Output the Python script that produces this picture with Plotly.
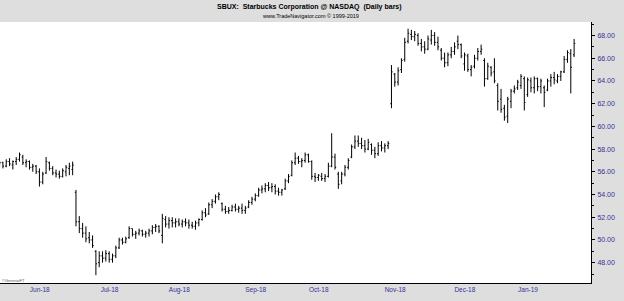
import pandas as pd
import plotly.graph_objects as go

# ---- data ----
holidays = ["2018-05-28", "2018-07-04", "2018-09-03", "2018-11-22",
            "2018-12-05", "2018-12-25", "2019-01-01", "2019-01-21"]
first_date = "2018-05-17"
last_date = "2019-01-25"

opens = [56.6, 56.8, 56.5, 56.9, 56.6, 56.9, 57.1, 57.3, 56.8, 56.9,
         56.4, 56.5, 56.0, 55.1, 55.9, 56.8, 56.3, 55.9, 55.8, 55.6,
         56.0, 56.3, 56.2, 54.2, 51.6, 51.0, 50.6, 50.2, 50.0, 49.0,
         48.0, 48.6, 48.4, 48.8, 48.3, 48.6, 49.3, 50.0, 49.8, 50.2,
         51.0, 50.5, 50.6, 50.8, 50.5, 50.6, 50.8, 51.1, 51.2, 50.4,
         51.8, 51.4, 51.7, 51.5, 51.6, 51.4, 51.6, 51.5, 51.3, 51.2,
         51.5, 51.8, 52.4, 52.3, 53.1, 53.4, 53.8, 53.2, 52.7, 52.5,
         52.6, 52.9, 52.7, 52.8, 52.6, 52.9, 53.3, 53.6, 53.9, 54.4,
         54.5, 54.8, 54.6, 54.7, 54.3, 54.2, 54.5, 55.2, 55.7, 56.8,
         57.2, 56.9, 57.0, 57.5, 56.9, 55.6, 55.5, 55.6, 55.4, 55.6,
         56.5, 57.3, 55.8, 55.2, 55.8, 56.4, 57.3, 58.2, 58.7, 58.5,
         58.3, 58.0, 58.4, 57.9, 57.6, 58.3, 58.1, 58.3, 62.0, 64.6,
         63.9, 65.0, 65.9, 67.5, 68.1, 67.9, 68.0, 67.3, 67.0, 66.8,
         67.6, 68.0, 67.4, 66.7, 66.0, 65.6, 66.3, 66.6, 67.5, 67.2,
         65.5, 66.2, 65.0, 65.3, 66.0, 66.6, 65.8, 64.2, 65.2, 64.8,
         63.6, 62.4, 61.6, 60.9, 62.2, 63.1, 63.4, 63.6, 64.2, 62.8,
         64.0, 63.4, 64.2, 63.5, 63.4, 63.2, 64.0, 64.3, 64.0, 64.4,
         64.8, 65.9, 66.4, 66.3]
highs = [57.0, 56.9, 57.1, 57.2, 57.0, 57.3, 57.7, 57.5, 57.1, 57.0,
         56.7, 56.6, 56.3, 56.0, 57.3, 56.9, 56.5, 56.2, 56.1, 56.3,
         56.6, 56.8, 56.9, 54.4, 52.1, 51.5, 51.2, 50.7, 50.4, 49.1,
         49.0, 49.0, 49.1, 49.0, 48.8, 49.5, 50.2, 50.2, 50.3, 51.2,
         51.0, 50.8, 51.0, 50.9, 50.8, 51.0, 51.3, 51.4, 51.3, 52.3,
         52.1, 52.0, 52.0, 51.9, 51.9, 51.8, 51.9, 51.8, 51.6, 51.7,
         51.9, 52.6, 52.8, 53.3, 53.6, 54.0, 54.2, 53.3, 53.0, 52.9,
         53.1, 53.2, 53.0, 53.2, 53.0, 53.5, 53.8, 54.1, 54.6, 54.8,
         55.0, 55.1, 55.0, 54.9, 54.6, 54.5, 55.4, 55.8, 57.0, 57.7,
         57.4, 57.2, 57.7, 57.6, 57.0, 55.9, 55.8, 55.9, 55.8, 56.8,
         59.4, 57.6, 56.0, 56.0, 56.6, 57.2, 58.4, 59.2, 59.2, 59.0,
         58.8, 58.9, 58.5, 58.2, 58.6, 58.7, 58.5, 58.7, 65.4, 64.7,
         65.2, 66.0, 67.8, 68.6, 68.5, 68.4, 68.2, 67.7, 67.5, 68.0,
         68.5, 68.3, 67.9, 66.9, 66.5, 66.5, 67.0, 67.4, 68.0, 67.3,
         66.5, 66.4, 65.4, 66.3, 66.9, 67.2, 66.0, 65.6, 65.3, 66.0,
         63.8, 63.3, 61.9, 62.6, 63.3, 63.6, 64.1, 64.6, 64.4, 64.3,
         64.3, 64.4, 64.3, 64.2, 63.6, 64.2, 64.6, 64.8, 64.6, 64.9,
         66.2, 66.7, 66.8, 67.7]
lows = [56.4, 56.3, 56.4, 56.5, 56.2, 56.6, 56.9, 56.6, 56.4, 56.2,
        56.0, 55.8, 54.7, 54.9, 55.8, 56.1, 55.7, 55.5, 55.4, 55.5,
        55.6, 55.7, 55.7, 51.2, 50.6, 50.2, 49.8, 49.7, 49.3, 46.9,
        47.6, 48.0, 48.1, 48.0, 48.0, 48.4, 49.2, 49.6, 49.7, 50.1,
        50.3, 50.1, 50.4, 50.3, 50.2, 50.3, 50.5, 50.7, 50.6, 49.7,
        51.1, 51.0, 51.1, 51.1, 51.2, 51.1, 51.2, 51.0, 51.0, 50.9,
        51.2, 51.7, 52.0, 52.2, 52.8, 53.2, 53.5, 52.5, 52.3, 52.3,
        52.5, 52.5, 52.4, 52.3, 52.3, 52.8, 53.1, 53.4, 53.8, 54.1,
        54.2, 54.3, 54.2, 54.0, 53.9, 53.9, 54.4, 55.0, 55.6, 56.6,
        56.7, 56.4, 56.8, 56.8, 55.3, 55.1, 55.2, 55.2, 55.1, 55.5,
        56.4, 56.2, 54.5, 54.9, 55.6, 56.2, 57.2, 58.0, 58.2, 58.0,
        57.7, 57.9, 57.5, 57.2, 57.4, 57.8, 57.7, 58.0, 61.6, 63.5,
        63.6, 64.7, 65.7, 67.3, 67.6, 67.5, 67.1, 66.6, 66.4, 66.7,
        67.2, 67.1, 66.7, 65.8, 65.2, 65.3, 66.0, 66.3, 66.8, 66.0,
        64.9, 64.8, 64.4, 65.1, 65.8, 66.3, 63.5, 64.1, 64.4, 63.8,
        61.4, 61.2, 60.5, 60.3, 61.6, 62.9, 63.2, 63.3, 61.4, 62.6,
        63.0, 62.9, 63.1, 62.9, 61.7, 63.1, 63.5, 63.7, 63.8, 64.0,
        64.7, 65.6, 62.9, 66.1]
closes = [56.8, 56.5, 56.9, 56.7, 56.9, 57.1, 57.5, 56.8, 56.9, 56.4,
          56.5, 56.0, 55.1, 55.8, 56.9, 56.3, 55.9, 55.8, 55.6, 56.1,
          56.4, 56.5, 56.6, 51.6, 51.0, 50.6, 50.1, 50.0, 49.5, 47.9,
          48.6, 48.4, 48.8, 48.3, 48.6, 49.3, 50.0, 49.8, 50.1, 51.0,
          50.5, 50.6, 50.8, 50.5, 50.6, 50.8, 51.1, 51.2, 50.8, 51.9,
          51.4, 51.7, 51.5, 51.6, 51.4, 51.6, 51.5, 51.3, 51.2, 51.5,
          51.8, 52.4, 52.2, 53.1, 53.4, 53.8, 54.0, 52.7, 52.5, 52.6,
          52.9, 52.7, 52.8, 52.6, 52.8, 53.3, 53.6, 53.9, 54.4, 54.5,
          54.8, 54.6, 54.7, 54.3, 54.2, 54.4, 55.2, 55.6, 56.8, 57.2,
          56.9, 57.0, 57.5, 56.9, 55.6, 55.5, 55.7, 55.4, 55.6, 56.5,
          57.3, 56.4, 54.9, 55.8, 56.4, 57.0, 58.2, 58.7, 58.5, 58.3,
          58.0, 58.6, 57.9, 57.6, 58.3, 58.1, 58.3, 58.5, 64.8, 63.9,
          64.9, 65.8, 67.4, 68.2, 67.9, 68.1, 67.3, 67.0, 66.8, 67.7,
          68.0, 67.4, 67.0, 66.0, 65.6, 66.3, 66.6, 67.0, 67.2, 66.2,
          66.3, 65.0, 65.2, 66.0, 66.6, 66.8, 64.2, 65.3, 64.7, 64.0,
          62.2, 61.5, 60.8, 62.4, 63.1, 63.3, 63.9, 64.4, 62.1, 64.1,
          63.4, 64.2, 63.5, 64.0, 63.0, 64.0, 64.3, 64.1, 64.4, 64.8,
          65.9, 66.5, 65.2, 67.3]

month_ticks = ["2018-06-01", "2018-07-02", "2018-08-01", "2018-09-04",
               "2018-10-01", "2018-11-01", "2018-12-03", "2019-01-02"]
month_labels = ["Jun-18", "Jul-18", "Aug-18", "Sep-18",
                "Oct-18", "Nov-18", "Dec-18", "Jan-19"]
price_ticks = [48, 50, 52, 54, 56, 58, 60, 62, 64, 66, 68]

dates = pd.bdate_range(first_date, last_date, freq="C", holidays=holidays)
n = len(dates)
for arr in (opens, highs, lows, closes):
    if len(arr) != n:
        raise ValueError(f"length mismatch {len(arr)} vs {n}")

NAVY = "#333399"
FONT = "Liberation Sans, Arial, sans-serif"

fig = go.Figure(go.Ohlc(
    x=dates, open=opens, high=highs, low=lows, close=closes,
    increasing=dict(line=dict(color="black", width=1)),
    decreasing=dict(line=dict(color="black", width=1)),
    tickwidth=0.35, showlegend=False, hoverinfo="skip",
))

fig.update_layout(
    width=624, height=301,
    margin=dict(l=0, r=33, t=22, b=18),
    paper_bgcolor="#dedede", plot_bgcolor="white",
    font=dict(family=FONT, size=7, color=NAVY),
    showlegend=False,
)
fig.update_xaxes(
    type="date",
    rangebreaks=[dict(bounds=["sat", "mon"]), dict(values=holidays)],
    range=["2018-05-17 03:00", "2019-02-01 02:00"],
    rangeslider=dict(visible=False),
    tickvals=month_ticks, ticktext=month_labels,
    tickfont=dict(family=FONT, size=6.5, color=NAVY),
    ticklabelshift=7,
    showgrid=False, zeroline=False,
    showline=True, linecolor="black", linewidth=1,
    ticks="", mirror=False,
)
fig.update_yaxes(
    side="right", range=[46.21, 69.19],
    tickvals=price_ticks, tickformat=".2f",
    tickfont=dict(family=FONT, size=7, color=NAVY),
    showgrid=False, zeroline=False,
    showline=True, linecolor="black", linewidth=1,
    ticks="outside", ticklen=3, tickcolor="black", tickwidth=1,
    minor=dict(dtick=1, ticks="outside", ticklen=2, tickcolor="black"),
    ticklabelstandoff=1,
)

fig.add_annotation(
    xref="paper", yref="paper", x=309 / 591, y=(283 - 7) / 261,
    text="<b>SBUX:  Starbucks Corporation @ NASDAQ  (Daily bars)</b>",
    showarrow=False, xanchor="center", yanchor="middle",
    font=dict(family=FONT, size=7, color="black"),
)
fig.add_annotation(
    xref="paper", yref="paper", x=311 / 591, y=(283 - 15.5) / 261,
    text="www.TradeNavigator.com © 1999-2019",
    showarrow=False, xanchor="center", yanchor="middle",
    font=dict(family=FONT, size=5.5, color="black"),
)
fig.add_annotation(
    xref="paper", yref="paper", x=0, y=(283 - 280) / 261,
    text="©GenesisFT", showarrow=False, xanchor="left", yanchor="middle",
    font=dict(family=FONT, size=4, color="#555555"),
)

fig.write_html("out.html")
